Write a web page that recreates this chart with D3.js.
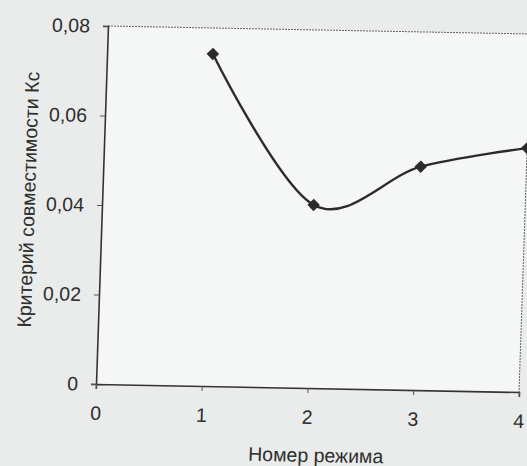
<!DOCTYPE html>
<html lang="ru">
<head>
  <meta charset="UTF-8">
  <title>Критерий совместимости</title>
  <script src="https://d3js.org/d3.v7.min.js"></script>
  <style>
    body { margin: 0; background: #e9ecea; }
    svg { display: block; font-family: "Liberation Sans", Arial, sans-serif; }
  </style>
</head>
<body>
  <div id="my_dataviz"></div>
  <script>
    // data
    var regimes = [1, 2, 3, 4];
    var kc = [0.0742, 0.0409, 0.0499, 0.0545];
    var xTicks = [0, 1, 2, 3, 4];
    var yTicks = [0, 0.02, 0.04, 0.06, 0.08];
    var xTitle = "Номер режима";
    var yTitle = "Критерий совместимости Кс";

    var width = 423, height = 358;

    var svg = d3.select("#my_dataviz")
      .append("svg")
      .attr("width", 527)
      .attr("height", 466);

    // scanned page is slightly tilted, so the whole chart is drawn in a skewed frame
    var g = svg.append("g")
      .attr("transform", "matrix(1,0.0189,-0.0335,1,108,26)");

    var x = d3.scaleLinear().domain([0, 4]).range([0, width]);
    var y = d3.scaleLinear().domain([0, 0.08]).range([height, 0]);

    // plot area
    g.append("rect")
      .attr("x", 0).attr("y", 0)
      .attr("width", width).attr("height", height)
      .attr("fill", "#f4f7f5");

    // top and right border (thin, dotted in the scan)
    g.append("path")
      .attr("d", "M0,0H" + width + "V" + height)
      .attr("fill", "none")
      .attr("stroke", "#666")
      .attr("stroke-width", 1)
      .attr("stroke-dasharray", "2,1");

    // axes
    var fmt = function (d) { return d === 0 ? "0" : d3.format(".2f")(d).replace(".", ","); };

    var yAxis = g.append("g")
      .call(d3.axisLeft(y).tickValues(yTicks).tickSize(5).tickFormat(fmt));
    var xAxis = g.append("g")
      .attr("transform", "translate(0," + height + ")")
      .call(d3.axisBottom(x).tickValues(xTicks).tickSize(5).tickFormat(d3.format("d")));

    [xAxis, yAxis].forEach(function (a) {
      a.select(".domain").attr("stroke", "#333").attr("stroke-width", 1.6);
      a.selectAll(".tick line").attr("stroke", "#555");
      a.selectAll(".tick text").attr("fill", "#2e2e2e").style("font-size", "19.5px");
    });
    yAxis.selectAll(".tick text").attr("x", -18);
    xAxis.selectAll(".tick text").attr("y", 22);

    // axis titles
    g.append("text")
      .attr("text-anchor", "middle")
      .attr("transform", "translate(-74,175) rotate(-90)")
      .attr("dy", "0.35em")
      .attr("fill", "#2e2e2e")
      .style("font-size", "19.5px")
      .text(yTitle);

    g.append("text")
      .attr("text-anchor", "middle")
      .attr("x", 222).attr("y", height + 67)
      .attr("dy", "0.35em")
      .attr("fill", "#2e2e2e")
      .style("font-size", "19.5px")
      .text(xTitle);

    // smoothed line
    var pts = regimes.map(function (r, i) { return [r, kc[i]]; });
    var line = d3.line()
      .x(function (d) { return x(d[0]); })
      .y(function (d) { return y(d[1]); })
      .curve(d3.curveCatmullRom.alpha(0));

    g.append("path")
      .datum(pts)
      .attr("fill", "none")
      .attr("stroke", "#2b2b2b")
      .attr("stroke-width", 2.4)
      .attr("d", line);

    // diamond markers
    g.append("g")
      .selectAll("path")
      .data(pts)
      .enter()
      .append("path")
      .attr("transform", function (d) { return "translate(" + x(d[0]) + "," + y(d[1]) + ")"; })
      .attr("d", d3.symbol(d3.symbolDiamond2, 100))
      .attr("fill", "#2b2b2b");
  </script>
</body>
</html>
